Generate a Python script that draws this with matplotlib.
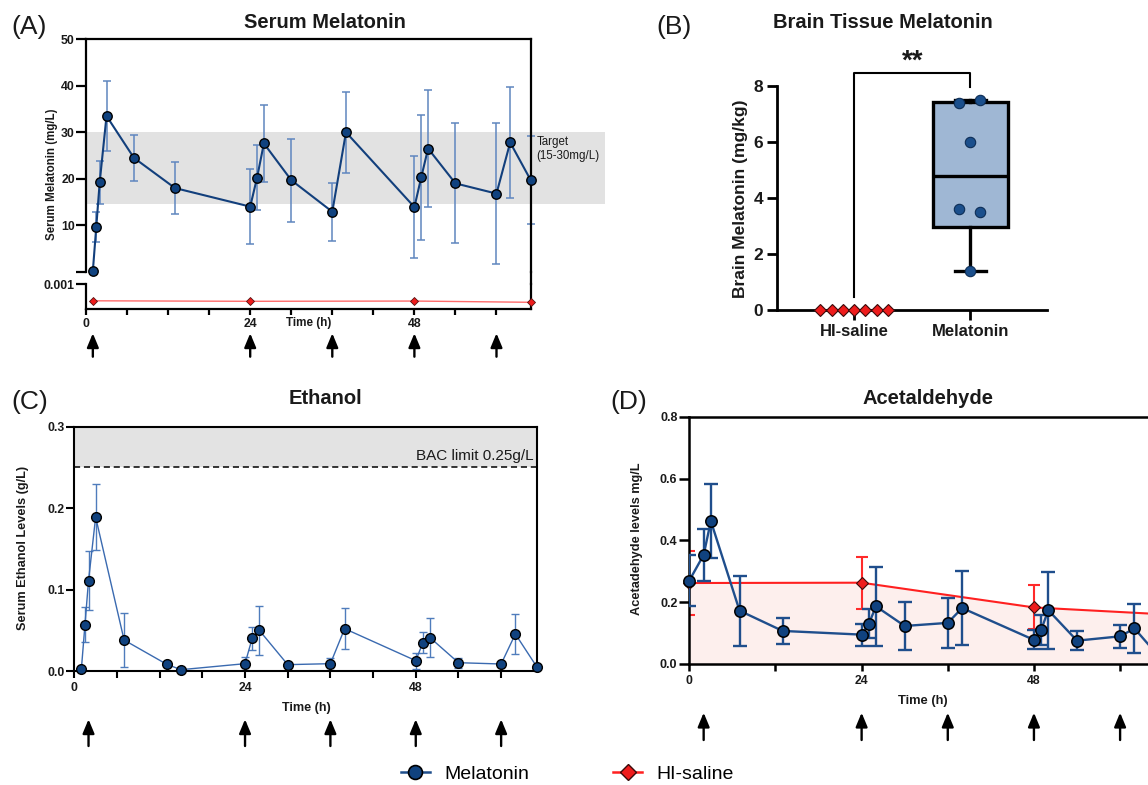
import numpy as np
import matplotlib
matplotlib.use("Agg")
import matplotlib.pyplot as plt
from matplotlib.patches import Rectangle
from matplotlib.lines import Line2D

plt.rcParams['font.family'] = ['Liberation Sans', 'DejaVu Sans']
plt.rcParams['axes.unicode_minus'] = False

# ---- data ----
# (A) serum melatonin, mg/L
t_mel_a = [1, 1.5, 2, 3, 7, 13, 24, 25, 26, 30, 36, 38, 48, 49, 50, 54, 60, 62, 65]
mel_a = [0.15, 9.6, 19.2, 33.5, 24.5, 18.0, 14.0, 20.2, 27.6, 19.7, 12.9, 30.0,
         13.9, 20.3, 26.5, 19.0, 16.8, 27.8, 19.7]
sd_mel_a = [0, 3.2, 4.7, 7.6, 4.9, 5.5, 8.0, 7.0, 8.2, 8.9, 6.2, 8.7,
            11.0, 13.5, 12.6, 12.9, 15.1, 12.0, 9.4]
t_sal_a = [1, 24, 48, 65]
sal_a = [0.00034, 0.00032, 0.00033, 0.00028]
target_lo, target_hi = 14.5, 30

# (B) brain tissue melatonin, mg/kg
groups_b = ['HI-saline', 'Melatonin']
sal_b = [0, 0, 0, 0, 0, 0, 0]
mel_b = [7.4, 7.5, 6.0, 3.6, 3.5, 1.4]

# (C) serum ethanol, g/L
t_eth = [1, 1.5, 2, 3, 7, 13, 15, 24, 25, 26, 30, 36, 38, 48, 49, 50, 54, 60, 62, 65]
eth = [0.003, 0.057, 0.111, 0.189, 0.038, 0.0082, 0.0016, 0.009, 0.040, 0.050,
       0.0078, 0.009, 0.052, 0.0127, 0.0348, 0.041, 0.0102, 0.0086, 0.0454, 0.0053]
sd_eth = [0, 0.021, 0.036, 0.041, 0.033, 0, 0, 0.008, 0.014, 0.030,
          0, 0.0075, 0.025, 0.010, 0.013, 0.024, 0.006, 0, 0.025, 0]
bac_limit = 0.25

# (D) acetaldehyde, mg/L
t_ace = [0, 2, 3, 7, 13, 24, 25, 26, 30, 36, 38, 48, 49, 50, 54, 60, 62, 65]
ace = [0.27, 0.353, 0.4625, 0.1725, 0.107, 0.095, 0.130, 0.1865, 0.123, 0.133,
       0.181, 0.078, 0.110, 0.174, 0.0755, 0.0895, 0.115, 0.035]
sd_ace = [0.083, 0.083, 0.12, 0.113, 0.041, 0.036, 0.047, 0.127, 0.079, 0.082,
          0.121, 0.031, 0.047, 0.125, 0.031, 0.038, 0.079, 0.03]
t_sal_d = [0, 24, 48, 65]
sal_d = [0.262, 0.263, 0.183, 0.162]
sd_sal_d = [0.105, 0.084, 0.071, 0.05]

dose_a = [1, 24, 36, 48, 60]
dose_cd = [2, 24, 36, 48, 60]

# ---- layout helpers (pixel based) ----
W, H = 1148, 785
fig = plt.figure(figsize=(W / 100, H / 100), dpi=100)


def fx(px):
    return px / W


def fy(py):
    return 1 - py / H


def rect(l, t, r, b):
    return [l / W, 1 - b / H, (r - l) / W, (b - t) / H]


NAVY = '#123f7c'
FACE = '#10427f'
RED = '#ee1c1c'
TXT = '#1a1a1a'


def time_ticks(ax, step):
    ticks = np.arange(0, 66, step)
    ax.set_xticks(ticks)
    ax.set_xticklabels([str(t) if t in (0, 24, 48) else '' for t in ticks],
                       fontweight='bold', fontsize=8.8, color=TXT)


def arrows(ax, hours, tip, base):
    for h in hours:
        ax.annotate('', xy=(h, fy(tip)), xytext=(h, fy(base)),
                    xycoords=('data', 'figure fraction'),
                    textcoords=('data', 'figure fraction'),
                    annotation_clip=False,
                    arrowprops=dict(arrowstyle='-|>,head_length=0.6,head_width=0.25',
                                    color='black', lw=1.7, mutation_scale=14,
                                    shrinkA=0, shrinkB=0))


# ================= (A) =================
axA = fig.add_axes(rect(86, 39.3, 530.7, 271.7))
axA2 = fig.add_axes(rect(86, 284.3, 530.7, 309.3))
for a in (axA, axA2):
    a.set_xlim(0, 65)
    for s in a.spines.values():
        s.set_linewidth(1.6)
axA.spines['bottom'].set_visible(False)
axA2.spines['top'].set_visible(False)
axA.set_ylim(0, 50)
axA.set_yticks([0, 10, 20, 30, 40, 50])
axA.set_yticklabels(['', '10', '20', '30', '40', '50'], fontweight='bold', fontsize=8.8, color=TXT)
axA.tick_params(axis='y', length=7, width=1.6, pad=1)
axA.tick_params(axis='x', bottom=False, labelbottom=False)
axA2.set_ylim(0, 0.001)
axA2.set_yticks([0.001])
axA2.set_yticklabels(['0.001'], fontweight='bold', fontsize=8.8, color=TXT)
axA2.tick_params(axis='y', length=7, width=1.6, pad=1)
axA2.tick_params(axis='x', length=4.5, width=1.6, pad=2)
time_ticks(axA2, 6)

axA.add_patch(Rectangle((0, target_lo), 75.9, target_hi - target_lo,
                        facecolor='#e2e2e2', edgecolor='none', zorder=0, clip_on=False))
axA.errorbar(t_mel_a, mel_a, yerr=sd_mel_a, fmt='none', ecolor='#5f86bf',
             elinewidth=1.1, capsize=2.6, capthick=1.1, zorder=2, clip_on=False)
axA.plot(t_mel_a, mel_a, '-o', color=NAVY, lw=1.5, mfc=FACE, mec='black', ms=6.8,
         mew=1.0, zorder=3, clip_on=False)
axA2.plot(t_sal_a, sal_a, '-D', color='#ff6b6b', lw=1.0, mfc=RED, mec='#551111',
          ms=4.2, mew=0.6, zorder=3, clip_on=False)
fig.add_artist(Line2D([fx(530.7), fx(530.7)], [fy(271.7), fy(284.3)], color='black', lw=1.6))
fig.text(fx(536.7), fy(149), 'Target\n(15-30mg/L)', fontsize=8.3, va='center', ha='left',
         linespacing=1.25, color=TXT)
fig.text(fx(51.7), fy(174.5), 'Serum Melatonin (mg/L)', rotation=90, fontsize=8.3,
         fontweight='bold', va='center', ha='center', color=TXT)
fig.text(fx(308.3), fy(322.7), 'Time (h)', fontsize=8.4, fontweight='bold',
         va='center', ha='center', color=TXT)
arrows(axA2, dose_a, 333.3, 356.7)

# ================= (B) =================
axB = fig.add_axes(rect(777.3, 86.3, 1047.3, 310))
q1, med, q3 = np.percentile(mel_b, [25, 50, 75], method='weibull')
stats = [dict(med=med, q1=q1, q3=q3, whislo=min(mel_b), whishi=max(mel_b), fliers=[])]
axB.bxp(stats, positions=[1], widths=0.65, patch_artist=True, showfliers=False,
        capwidths=[0.26], manage_ticks=False,
        boxprops=dict(facecolor='#9fb7d4', edgecolor='black', linewidth=2.4),
        whiskerprops=dict(color='black', linewidth=2.4),
        capprops=dict(color='black', linewidth=2.4),
        medianprops=dict(color='black', linewidth=2.4), zorder=2)
jit_mel = [-0.095, 0.086, 0, -0.095, 0.086, 0]
jit_sal = np.linspace(-0.29, 0.29, len(sal_b))
axB.plot(1 + np.array(jit_mel), mel_b, 'o', mfc='#1b4f8c', mec='#0d2d55', ms=7.5, mew=0.8,
         zorder=4, clip_on=False)
axB.plot(jit_sal, sal_b, 'D', mfc=RED, mec='#3a0a0a', ms=6, mew=0.8, zorder=4, clip_on=False)
axB.plot([0, 0, 1, 1], [0.48, 8.46, 8.46, 7.96], color='black', lw=1.5, clip_on=False)
axB.text(0.5, 8.9, '**', fontsize=20, fontweight='bold', ha='center', va='center',
         color=TXT, clip_on=False)
axB.set_xlim(-0.66, 1.66)
axB.set_ylim(0, 8)
axB.spines['top'].set_visible(False)
axB.spines['right'].set_visible(False)
for s in ('left', 'bottom'):
    axB.spines[s].set_linewidth(2)
axB.set_yticks([0, 2, 4, 6, 8])
axB.set_yticklabels(['0', '2', '4', '6', '8'], fontweight='bold', fontsize=12.5, color=TXT)
axB.set_xticks([0, 1])
axB.set_xticklabels(groups_b, fontweight='bold', fontsize=12, color=TXT)
axB.tick_params(length=7, width=2, pad=3)
fig.text(fx(740), fy(198.3), 'Brain Melatonin (mg/kg)', rotation=90, fontsize=12.5,
         fontweight='bold', va='center', ha='center', color=TXT)

# ================= (C) =================
axC = fig.add_axes(rect(74.3, 426.7, 536.7, 671))
axC.set_xlim(0, 65)
axC.set_ylim(0, 0.3)
for s in axC.spines.values():
    s.set_linewidth(1.5)
axC.set_yticks([0, 0.1, 0.2, 0.3])
axC.set_yticklabels(['0.0', '0.1', '0.2', '0.3'], fontweight='bold', fontsize=8.8, color=TXT)
axC.tick_params(axis='y', length=6, width=1.5, pad=1)
axC.tick_params(axis='x', length=5, width=1.5, pad=3)
time_ticks(axC, 6)
axC.axhspan(bac_limit, 0.3, color='#e3e3e3', zorder=0, lw=0)
axC.axhline(bac_limit, color='black', lw=1.1, ls=(0, (4, 2.5)), zorder=1)
axC.text(64.6, 0.264, 'BAC limit 0.25g/L', fontsize=11, ha='right', va='center', color=TXT)
axC.errorbar(t_eth, eth, yerr=sd_eth, fmt='none', ecolor='#4f7cbc', elinewidth=1.0,
             capsize=3, capthick=1.0, zorder=2)
axC.plot(t_eth, eth, '-o', color='#3a6ab0', lw=1.0, mfc=FACE, mec='black', ms=7,
         mew=1.0, zorder=3, clip_on=False)
fig.text(fx(22.7), fy(548.3), 'Serum Ethanol Levels (g/L)', rotation=90, fontsize=9.2,
         fontweight='bold', va='center', ha='center', color=TXT)
fig.text(fx(306), fy(708.3), 'Time (h)', fontsize=9.1, fontweight='bold',
         va='center', ha='center', color=TXT)
arrows(axC, dose_cd, 719.3, 746)

# ================= (D) =================
axD = fig.add_axes(rect(689.3, 416.7, 1156, 664))
axD.set_xlim(0, 65)
axD.set_ylim(0, 0.8)
for s in axD.spines.values():
    s.set_linewidth(1.8)
axD.set_yticks([0, 0.2, 0.4, 0.6, 0.8])
axD.set_yticklabels(['0.0', '0.2', '0.4', '0.6', '0.8'], fontweight='bold', fontsize=9, color=TXT)
axD.tick_params(axis='y', length=7.5, width=1.8, pad=1)
axD.tick_params(axis='x', length=5, width=1.8, pad=3)
time_ticks(axD, 12)
axD.fill_between(t_sal_d, 0, sal_d, color='#fdefed', lw=0, zorder=0)
axD.errorbar(t_sal_d, sal_d, yerr=sd_sal_d, fmt='none', ecolor='#ff2a2a', elinewidth=1.5,
             capsize=4.5, capthick=1.5, zorder=2)
axD.plot(t_sal_d, sal_d, '-D', color='#ff2020', lw=1.5, mfc=RED, mec='#3a0a0a', ms=6.5,
         mew=0.8, zorder=3, clip_on=False)
axD.errorbar(t_ace, ace, yerr=sd_ace, fmt='none', ecolor='#1f4e8c', elinewidth=1.7,
             capsize=4.8, capthick=1.7, zorder=4)
axD.plot(t_ace, ace, '-o', color='#1f4e8c', lw=1.7, mfc=FACE, mec='black', ms=8.2,
         mew=1.1, zorder=5, clip_on=False)
fig.text(fx(636.7), fy(539.2), 'Acetadehyde levels mg/L', rotation=90, fontsize=9.2,
         fontweight='bold', va='center', ha='center', color=TXT)
fig.text(fx(923.3), fy(700.7), 'Time (h)', fontsize=9.3, fontweight='bold',
         va='center', ha='center', color=TXT)
arrows(axD, dose_cd, 712.7, 740)

# ---- titles & panel letters ----
titles = [('Serum Melatonin', 325, 22), ('Brain Tissue Melatonin', 883, 22),
          ('Ethanol', 325.7, 398.3), ('Acetaldehyde', 927.7, 398.3)]
for txt, x, y in titles:
    fig.text(fx(x), fy(y), txt, fontsize=14.5, fontweight='bold', ha='center', va='center', color=TXT)
letters = [('(A)', 11, 27), ('(B)', 656, 27), ('(C)', 11, 402), ('(D)', 610, 402)]
for txt, x, y in letters:
    fig.text(fx(x), fy(y), txt, fontsize=19, ha='left', va='center', color=TXT)

# ---- shared legend ----
handles = [Line2D([], [], color='#1f4e8c', lw=1.8, marker='o', mfc=FACE, mec='black', ms=10, mew=1.2),
           Line2D([], [], color='#ff2020', lw=1.8, marker='D', mfc=RED, mec='#3a0a0a', ms=8.5, mew=1.0)]
fig.legend(handles, ['Melatonin', 'HI-saline'], loc='center left',
           bbox_to_anchor=(fx(400.7), fy(774)), ncol=2, frameon=False, fontsize=14,
           handlelength=1.5, handletextpad=0.75, columnspacing=4.3, borderpad=0,
           borderaxespad=0)

fig.savefig('out.png', dpi=100)
